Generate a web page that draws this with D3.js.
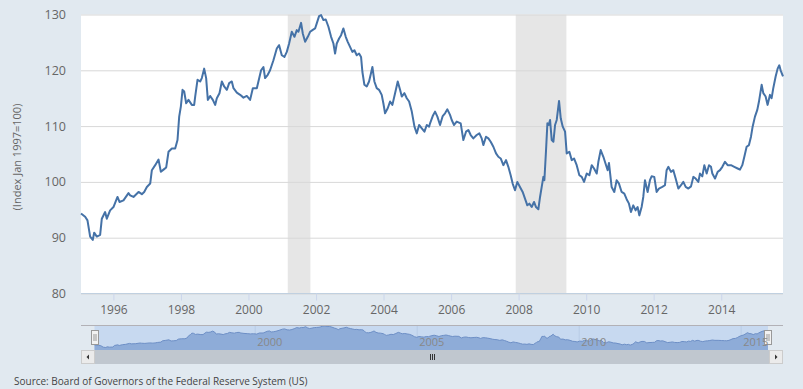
<!DOCTYPE html>
<html lang="en">
<head>
<meta charset="UTF-8">
<title>Trade weighted dollar index</title>
<script src="https://d3js.org/d3.v7.min.js"></script>
<style>
  body { margin: 0; background: #e1e9f0; }
  svg { display: block; font-family: "Open Sans", sans-serif; }
</style>
</head>
<body>
<script>
// decimal years and index values
const years = [
  1995.04, 1995.163, 1995.232, 1995.311, 1995.39, 1995.43, 1995.509, 1995.607, 1995.657, 1995.755,
  1995.805, 1995.903, 1996.002, 1996.121, 1996.18, 1996.298, 1996.446, 1996.496, 1996.594, 1996.743,
  1996.841, 1996.91, 1996.989, 1997.088, 1997.137, 1997.236, 1997.335, 1997.404, 1997.483, 1997.562,
  1997.631, 1997.73, 1997.828, 1997.897, 1997.947, 1997.996, 1998.046, 1998.095, 1998.154, 1998.223,
  1998.322, 1998.391, 1998.421, 1998.49, 1998.569, 1998.618, 1998.687, 1998.746, 1998.796, 1998.865,
  1998.944, 1999.013, 1999.062, 1999.141, 1999.211, 1999.28, 1999.359, 1999.428, 1999.507, 1999.556,
  1999.655, 1999.753, 1999.852, 1999.951, 2000.049, 2000.129, 2000.247, 2000.373, 2000.442, 2000.491,
  2000.57, 2000.639, 2000.738, 2000.837, 2000.906, 2000.985, 2001.064, 2001.133, 2001.202, 2001.281,
  2001.36, 2001.429, 2001.478, 2001.557, 2001.607, 2001.676, 2001.755, 2001.824, 2001.893, 2001.972,
  2002.021, 2002.09, 2002.15, 2002.219, 2002.288, 2002.367, 2002.446, 2002.515, 2002.564, 2002.614,
  2002.683, 2002.742, 2002.811, 2002.88, 2002.939, 2003.008, 2003.077, 2003.137, 2003.206, 2003.275,
  2003.334, 2003.374, 2003.433, 2003.502, 2003.571, 2003.63, 2003.67, 2003.729, 2003.798, 2003.867,
  2003.946, 2003.995, 2004.045, 2004.124, 2004.193, 2004.262, 2004.341, 2004.42, 2004.489, 2004.539,
  2004.617, 2004.687, 2004.756, 2004.835, 2004.914, 2004.983, 2005.052, 2005.131, 2005.21, 2005.279,
  2005.348, 2005.376, 2005.455, 2005.524, 2005.593, 2005.672, 2005.751, 2005.82, 2005.889, 2005.968,
  2006.018, 2006.087, 2006.166, 2006.284, 2006.363, 2006.442, 2006.511, 2006.58, 2006.659, 2006.758,
  2006.837, 2006.906, 2006.955, 2007.034, 2007.104, 2007.173, 2007.252, 2007.331, 2007.4, 2007.469,
  2007.548, 2007.627, 2007.696, 2007.765, 2007.824, 2007.893, 2007.962, 2008.041, 2008.12, 2008.189,
  2008.258, 2008.318, 2008.387, 2008.456, 2008.515, 2008.584, 2008.634, 2008.683, 2008.732, 2008.762,
  2008.811, 2008.851, 2008.89, 2008.93, 2008.979, 2009.029, 2009.078, 2009.127, 2009.196, 2009.246,
  2009.305, 2009.374, 2009.423, 2009.502, 2009.572, 2009.64, 2009.719, 2009.798, 2009.868, 2009.937,
  2010.016, 2010.095, 2010.164, 2010.233, 2010.312, 2010.361, 2010.43, 2010.509, 2010.636, 2010.675,
  2010.754, 2010.833, 2010.903, 2010.972, 2011.051, 2011.13, 2011.199, 2011.268, 2011.327, 2011.396,
  2011.465, 2011.524, 2011.574, 2011.643, 2011.692, 2011.742, 2011.821, 2011.89, 2011.939, 2012.018,
  2012.087, 2012.156, 2012.255, 2012.334, 2012.383, 2012.433, 2012.512, 2012.581, 2012.65, 2012.729,
  2012.808, 2012.877, 2012.946, 2013.025, 2013.104, 2013.173, 2013.242, 2013.321, 2013.37, 2013.439,
  2013.499, 2013.568, 2013.637, 2013.696, 2013.736, 2013.815, 2013.894, 2013.963, 2014.032, 2014.111,
  2014.19, 2014.289, 2014.387, 2014.486, 2014.555, 2014.624, 2014.684, 2014.752, 2014.821, 2014.881,
  2014.93, 2014.999, 2015.068, 2015.118, 2015.197, 2015.246, 2015.315, 2015.374, 2015.444, 2015.493,
  2015.542, 2015.612, 2015.671, 2015.72, 2015.76, 2015.83
];
const values = [
  94.35, 93.75, 93.1, 90.2, 89.6, 90.9, 90.2, 90.5, 93.4, 94.6,
  93.4, 94.9, 95.5, 97.3, 96.4, 96.7, 98.0, 97.6, 97.3, 98.2,
  97.8, 98.2, 99.1, 99.7, 102.1, 103.0, 104.0, 101.8, 102.2, 102.6,
  105.4, 106.0, 106.0, 107.5, 111.7, 113.5, 116.5, 116.2, 114.1, 114.7,
  113.8, 113.8, 115.3, 118.3, 118.0, 118.6, 120.3, 118.6, 114.7, 115.4,
  114.7, 113.8, 115.0, 115.9, 118.0, 117.1, 116.5, 117.7, 118.0, 116.8,
  116.0, 115.6, 115.1, 115.4, 114.7, 116.8, 116.8, 120.0, 120.6, 118.6,
  119.2, 120.0, 121.8, 123.9, 124.5, 122.7, 122.4, 123.3, 124.8, 126.9,
  126.0, 127.2, 126.9, 128.5, 126.6, 125.1, 126.0, 126.9, 127.2, 127.5,
  128.4, 129.7, 129.9, 129.0, 129.1, 127.8, 126.0, 124.8, 123.0, 124.8,
  125.7, 126.3, 127.5, 126.0, 125.1, 124.2, 123.3, 123.6, 122.7, 123.0,
  122.4, 119.7, 117.4, 117.1, 118.0, 119.5, 120.6, 118.0, 116.8, 116.5,
  115.6, 114.1, 112.3, 113.2, 114.4, 113.8, 115.9, 118.0, 116.5, 115.3,
  115.9, 115.0, 114.4, 112.6, 109.9, 108.7, 110.2, 109.6, 109.0, 110.2,
  109.9, 110.5, 111.8, 112.6, 111.7, 110.2, 111.8, 112.3, 113.0, 112.0,
  111.1, 110.2, 110.8, 110.5, 107.5, 109.0, 109.3, 108.4, 107.8, 108.4,
  108.7, 107.8, 106.6, 108.1, 107.8, 107.2, 106.3, 105.1, 104.5, 104.2,
  103.0, 103.9, 102.7, 101.2, 99.7, 98.5, 100.0, 99.1, 98.2, 97.0,
  95.8, 96.1, 95.5, 96.4, 95.5, 95.1, 97.3, 99.1, 100.9, 100.3,
  105.7, 110.5, 110.2, 111.1, 107.5, 107.2, 110.2, 111.1, 114.5, 111.4,
  109.9, 109.0, 105.1, 105.4, 103.9, 104.2, 103.0, 101.2, 100.9, 100.0,
  101.5, 101.2, 103.0, 102.4, 101.5, 103.6, 105.7, 104.5, 102.1, 103.4,
  99.1, 98.2, 100.3, 99.7, 98.2, 97.9, 96.9, 96.1, 94.6, 95.8,
  94.9, 95.5, 94.0, 95.5, 97.3, 100.3, 98.2, 100.3, 101.0, 100.9,
  98.2, 98.8, 99.1, 99.4, 102.1, 102.7, 101.8, 102.1, 100.6, 98.8,
  99.4, 100.0, 99.1, 98.8, 99.2, 100.9, 100.6, 100.0, 101.5, 101.0,
  103.0, 101.5, 103.0, 102.7, 101.5, 100.6, 101.8, 102.1, 102.7, 103.6,
  103.0, 103.0, 102.7, 102.4, 102.2, 103.0, 104.5, 106.3, 106.6, 108.1,
  109.9, 111.7, 112.9, 114.4, 117.4, 115.9, 115.3, 113.8, 115.6, 115.0,
  116.8, 118.9, 120.3, 120.9, 120.0, 118.9
];
// NBER recessions
const recessions = [["2001-03-01", "2001-11-01"], ["2007-12-01", "2009-06-01"]];
const yTicks = [80, 90, 100, 110, 120, 130];
const navTickYears = [2000, 2005, 2010, 2015];
const yTitle = "(Index Jan 1997=100)";
const sourceText = "Source: Board of Governors of the Federal Reserve System (US)";

const W = 803, H = 389;
const plotL = 81, plotR = 783, plotT = 14.5, plotB = 293.5;

function toDate(yv) {
  const yr = Math.floor(yv);
  const s = Date.UTC(yr, 0, 1), e = Date.UTC(yr + 1, 0, 1);
  return new Date(s + (yv - yr) * (e - s));
}
const data = years.map((yv, i) => ({ date: toDate(yv), value: values[i] }));

const svg = d3.select("body").append("svg")
  .attr("width", W)
  .attr("height", H);

svg.append("rect").attr("width", W).attr("height", H).attr("fill", "#e1e9f0");

const x = d3.scaleTime()
  .domain(d3.extent(data, d => d.date))
  .range([plotL, plotR]);
const y = d3.scaleLinear()
  .domain([80, 130])
  .range([plotB, plotT]);

// plot background
svg.append("rect")
  .attr("x", plotL).attr("y", plotT)
  .attr("width", plotR - plotL).attr("height", plotB - plotT)
  .attr("fill", "#fff");

// recession shading
svg.selectAll("rect.rec")
  .data(recessions)
  .enter().append("rect")
  .attr("class", "rec")
  .attr("x", d => x(new Date(d[0])))
  .attr("width", d => x(new Date(d[1])) - x(new Date(d[0])))
  .attr("y", plotT)
  .attr("height", plotB - plotT)
  .attr("fill", "#e6e6e6");

// y grid + labels
const yAxis = d3.axisLeft(y).tickValues(yTicks).tickSize(-(plotR - plotL)).tickPadding(15);
const gy = svg.append("g")
  .attr("transform", "translate(" + plotL + ",0)")
  .call(yAxis);
gy.select(".domain").remove();
gy.selectAll("line").attr("stroke", "#d8d8d8");
gy.selectAll("text").attr("fill", "#666").attr("font-size", 12.5).attr("font-family", "Open Sans");

// x axis
const xAxis = d3.axisBottom(x)
  .ticks(d3.timeYear.every(2))
  .tickFormat(d3.timeFormat("%Y"))
  .tickSize(7).tickPadding(5);
const gx = svg.append("g")
  .attr("transform", "translate(0," + plotB + ")")
  .call(xAxis);
gx.select(".domain").attr("stroke", "#c0d0e0").attr("d", "M" + plotL + ",0H" + plotR);
gx.selectAll("line").attr("stroke", "#ccd6eb");
gx.selectAll("text").attr("fill", "#666").attr("font-size", 12).attr("font-family", "Open Sans");

// main line
const line = d3.line().x(d => x(d.date)).y(d => y(d.value));
svg.append("path")
  .datum(data)
  .attr("d", line)
  .attr("fill", "none")
  .attr("stroke", "#4572a7")
  .attr("stroke-width", 2)
  .attr("stroke-linejoin", "round");

// y title
svg.append("text")
  .attr("transform", "translate(21,157) rotate(-90)")
  .attr("text-anchor", "middle")
  .attr("font-size", 11)
  .attr("fill", "#666")
  .text(yTitle);

// navigator
const navTop = 325, navBottom = 350;
const nx = d3.scaleTime()
  .domain(d3.extent(data, d => d.date))
  .range([94.5, 768]);
const ny = d3.scaleLinear()
  .domain(d3.extent(values))
  .range([347.5, 326]);

svg.append("rect")
  .attr("x", nx.range()[0]).attr("y", navTop)
  .attr("width", nx.range()[1] - nx.range()[0]).attr("height", navBottom - navTop)
  .attr("fill", "#c7d9f0");

svg.selectAll("line.navgrid")
  .data(navTickYears)
  .enter().append("line")
  .attr("class", "navgrid")
  .attr("x1", d => nx(toDate(d))).attr("x2", d => nx(toDate(d)))
  .attr("y1", navTop).attr("y2", navBottom)
  .attr("stroke", "#b8cce6");

const area = d3.area().x(d => nx(d.date)).y0(navBottom).y1(d => ny(d.value));
svg.append("path")
  .datum(data)
  .attr("d", area)
  .attr("fill", "#8eacd8");
svg.append("path")
  .datum(data)
  .attr("d", d3.line().x(d => nx(d.date)).y(d => ny(d.value)))
  .attr("fill", "none")
  .attr("stroke", "#6d8fc6")
  .attr("stroke-width", 1);

svg.append("line")
  .attr("x1", plotL).attr("x2", plotR)
  .attr("y1", navTop + 0.5).attr("y2", navTop + 0.5)
  .attr("stroke", "#b2b1b6");

// handles
[nx.range()[0], nx.range()[1]].forEach(hx => {
  const g = svg.append("g").attr("transform", "translate(" + Math.round(hx - 4) + ",330)");
  g.append("rect").attr("x", 0.5).attr("y", 0.5).attr("width", 7).attr("height", 14)
    .attr("fill", "#f2f2f2").attr("stroke", "#999");
  g.append("line").attr("x1", 3).attr("x2", 3).attr("y1", 4).attr("y2", 11).attr("stroke", "#999");
  g.append("line").attr("x1", 5).attr("x2", 5).attr("y1", 4).attr("y2", 11).attr("stroke", "#999");
});

// navigator labels drawn over the handles, as in the original
svg.selectAll("text.navlab")
  .data(navTickYears)
  .enter().append("text")
  .attr("class", "navlab")
  .attr("x", d => nx(toDate(d)) + 2)
  .attr("y", 346)
  .attr("font-size", 11)
  .attr("fill", "#888")
  .text(d => d);

// scrollbar
svg.append("rect")
  .attr("x", plotL).attr("y", navBottom)
  .attr("width", plotR - plotL).attr("height", 14)
  .attr("fill", "#c0c7cf");
[[plotL, "M" + (plotL + 8) + ",354.5L" + (plotL + 5.5) + ",357L" + (plotL + 8) + ",359.5Z"],
 [plotR - 14, "M" + (plotR - 8) + ",354.5L" + (plotR - 5.5) + ",357L" + (plotR - 8) + ",359.5Z"]]
  .forEach(([bx, arrow]) => {
    svg.append("rect").attr("x", bx + 0.5).attr("y", navBottom + 0.5).attr("width", 13).attr("height", 13)
      .attr("fill", "#ebebeb").attr("stroke", "#cccccc");
    svg.append("path").attr("d", arrow).attr("fill", "#333");
  });
const gripX = (plotL + plotR) / 2;
[-2, 0, 2].forEach(o => {
  svg.append("line")
    .attr("x1", gripX + o + 0.5).attr("x2", gripX + o + 0.5)
    .attr("y1", 354).attr("y2", 360)
    .attr("stroke", "#333");
});

// source
svg.append("text")
  .attr("x", 14).attr("y", 385)
  .attr("font-size", 10)
  .attr("fill", "#444")
  .text(sourceText);
</script>
</body>
</html>
